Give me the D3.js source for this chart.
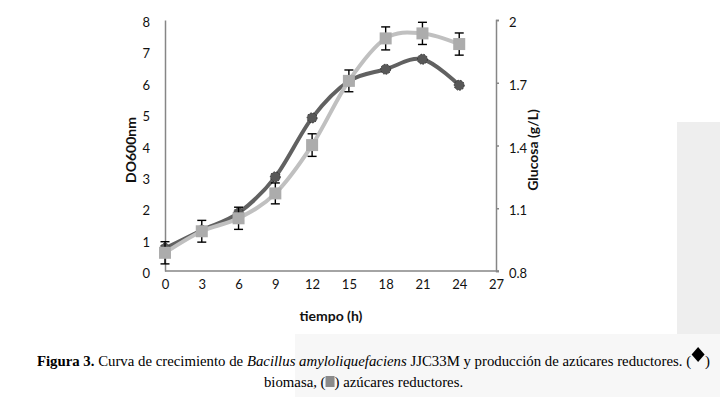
<!DOCTYPE html>
<html><head><meta charset="utf-8">
<script src="https://cdn.jsdelivr.net/npm/d3@7"></script>
<style>
html,body{margin:0;padding:0;background:#fff;}
svg{display:block;}
</style></head>
<body>
<svg id="chart" width="720" height="397"></svg>
<script>
// ---- data ----
const hours = [0, 3, 6, 9, 12, 15, 18, 21, 24];
const biomasa = [0.72, 1.3, 1.85, 3.0, 4.88, 6.05, 6.43, 6.75, 5.92];          // DO600nm (left axis)
const glucosa = [0.887, 0.99, 1.052, 1.171, 1.402, 1.709, 1.912, 1.936, 1.885]; // g/L (right axis)
const glucosaErr = [0.053, 0.052, 0.053, 0.05, 0.054, 0.052, 0.055, 0.053, 0.053];
const xTicks = [0, 3, 6, 9, 12, 15, 18, 21, 24, 27];
const leftTicks = [0, 1, 2, 3, 4, 5, 6, 7, 8];
const rightTicks = [0.8, 1.1, 1.4, 1.7, 2];
const rightTickLabels = ["0.8", "1.1", "1.4", "1.7", "2"];
const leftTitle = "DO600nm";
const rightTitle = "Glucosa (g/L)";
const xTitle = "tiempo (h)";

const svg = d3.select("#chart");

// faint background watermark of the scanned page
svg.append("rect").attr("x", 677).attr("y", 122).attr("width", 43).attr("height", 215).attr("fill", "#eeeeee");
svg.append("rect").attr("x", 295).attr("y", 334).attr("width", 425).attr("height", 63).attr("fill", "#f7f7f7");

const x = d3.scaleLinear().domain([0, 27]).range([165, 496]);
const yL = d3.scaleLinear().domain([0, 8]).range([271, 20]);
const yR = d3.scaleLinear().domain([0.8, 2]).range([271, 20]);

const axisColor = "#868686";
const tickFont = "Lato, 'Open Sans', sans-serif";

// left axis
const gL = svg.append("g").attr("transform", "translate(165,0)")
  .call(d3.axisLeft(yL).tickValues(leftTicks).tickSize(0).tickPadding(15).tickFormat(d3.format("d")));
// right axis
const gR = svg.append("g").attr("transform", "translate(496,0)")
  .call(d3.axisRight(yR).tickValues(rightTicks).tickSize(3).tickPadding(10)
    .tickFormat((d, i) => rightTickLabels[i]));
// bottom axis
const gB = svg.append("g").attr("transform", "translate(0,271)")
  .call(d3.axisBottom(x).tickValues(xTicks).tickSize(0).tickPadding(9).tickFormat(d3.format("d")));
gB.select(".domain").attr("d", "M165,0H499");

[gL, gR, gB].forEach(g => {
  g.select(".domain").attr("stroke", axisColor).attr("stroke-width", 1.5);
  g.selectAll(".tick line").attr("stroke", axisColor).attr("stroke-width", 1.5);
  g.selectAll(".tick text").attr("fill", "#111").style("font-family", tickFont).style("font-size", "13px");
});
gL.selectAll(".tick text").attr("dy", "0.5em");
gR.selectAll(".tick text").attr("dy", "0.5em");

// axis titles
svg.append("text").attr("transform", "translate(136,150) rotate(-90)")
  .attr("text-anchor", "middle").style("font-family", tickFont).style("font-weight", "bold")
  .style("font-size", "14px").attr("fill", "#111").text(leftTitle);
svg.append("text").attr("transform", "translate(538,150) rotate(-90)")
  .attr("text-anchor", "middle").style("font-family", tickFont).style("font-weight", "bold")
  .style("font-size", "14px").attr("fill", "#111").text(rightTitle);
svg.append("text").attr("x", 331).attr("y", 321)
  .attr("text-anchor", "middle").style("font-family", tickFont).style("font-weight", "bold")
  .style("font-size", "14px").attr("fill", "#111").text(xTitle);

const curve = d3.curveCardinal.tension(0);

// biomass line (dark)
const darkPts = hours.map((h, i) => [x(h), yL(biomasa[i])]);
svg.append("path").attr("d", d3.line().curve(curve)(darkPts))
  .attr("fill", "none").attr("stroke", "#616161").attr("stroke-width", 4).attr("stroke-linejoin", "round");
svg.append("g").selectAll("circle").data(darkPts).join("circle")
  .attr("cx", d => d[0]).attr("cy", d => d[1]).attr("r", 5)
  .attr("fill", "#585858").attr("stroke", "#2e2e2e").attr("stroke-width", 1).attr("stroke-dasharray", "1.5,1.5");

// glucose line (light)
const lightPts = hours.map((h, i) => [x(h), yR(glucosa[i])]);
svg.append("path").attr("d", d3.line().curve(curve)(lightPts))
  .attr("fill", "none").attr("stroke", "#c0c0c0").attr("stroke-width", 4).attr("stroke-linejoin", "round");

// error bars
const eb = svg.append("g").attr("stroke", "#000").attr("stroke-width", 1.4);
hours.forEach((h, i) => {
  const cx = x(h), top = yR(glucosa[i] + glucosaErr[i]), bot = yR(glucosa[i] - glucosaErr[i]);
  eb.append("line").attr("x1", cx).attr("x2", cx).attr("y1", top).attr("y2", bot);
  eb.append("line").attr("x1", cx - 4.5).attr("x2", cx + 4.5).attr("y1", top).attr("y2", top);
  eb.append("line").attr("x1", cx - 4.5).attr("x2", cx + 4.5).attr("y1", bot).attr("y2", bot);
});

// squares
svg.append("g").selectAll("rect").data(lightPts).join("rect")
  .attr("x", d => d[0] - 6).attr("y", d => d[1] - 6).attr("width", 12).attr("height", 12)
  .attr("fill", "#acacac");

// ---- caption ----
const capFont = "'Liberation Serif', 'Times New Roman', serif";
const capSize = "14.8px";
const cap1 = svg.append("text").attr("y", 366).style("font-family", capFont).style("font-size", capSize).attr("fill", "#000");
cap1.append("tspan").style("font-weight", "bold").text("Figura 3.");
cap1.append("tspan").text(" Curva de crecimiento de ");
cap1.append("tspan").style("font-style", "italic").text("Bacillus amyloliquefaciens");
cap1.append("tspan").text(" JJC33M y producción de azúcares reductores. (");
const w1 = cap1.node().getComputedTextLength();
const diamondW = 14;
const closeW = 5;
const total1 = w1 + diamondW + closeW;
const start1 = 373.5 - total1 / 2;
cap1.attr("x", start1);
const dx = start1 + w1 + diamondW / 2;
svg.append("path").attr("d", `M${dx},${347}L${dx + 6.5},${354.5}L${dx},${362}L${dx - 6.5},${354.5}Z`).attr("fill", "#000");
svg.append("text").attr("x", start1 + w1 + diamondW).attr("y", 366)
  .style("font-family", capFont).style("font-size", capSize).text(")");

const capA = svg.append("text").attr("y", 387).style("font-family", capFont).style("font-size", capSize).text("biomasa, (");
const capB = svg.append("text").attr("y", 387).style("font-family", capFont).style("font-size", capSize).text(") azúcares reductores.");
const wa = capA.node().getComputedTextLength(), wb = capB.node().getComputedTextLength();
const sq = 9;
const start2 = 363.5 - (wa + sq + wb) / 2;
capA.attr("x", start2);
svg.append("rect").attr("x", start2 + wa).attr("y", 376).attr("width", sq).attr("height", 11).attr("fill", "#8a8a8a");
capB.attr("x", start2 + wa + sq);
</script>
</body></html>
